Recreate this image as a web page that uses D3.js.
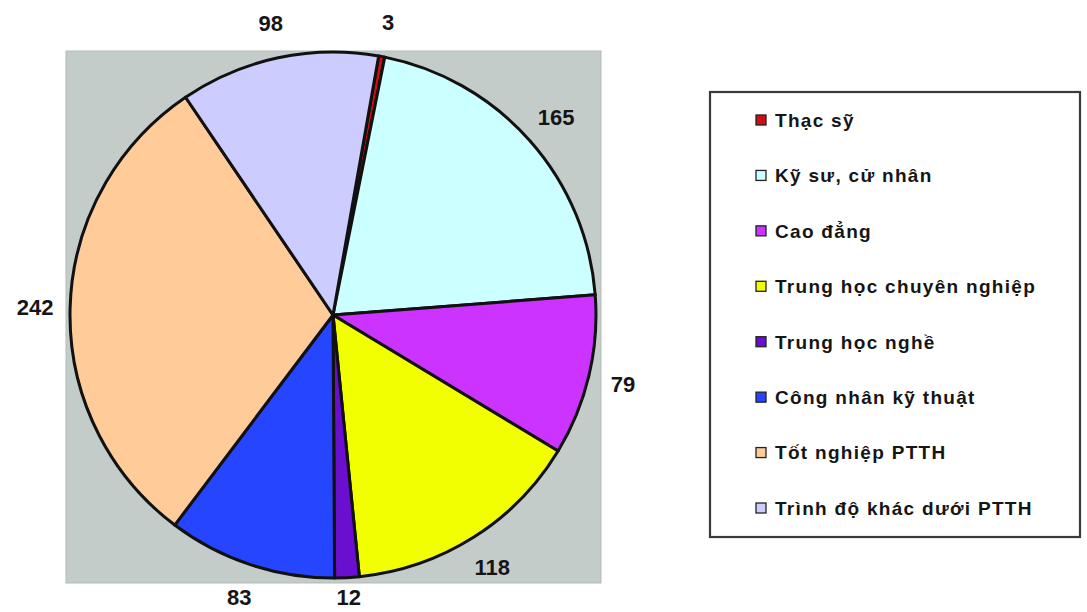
<!DOCTYPE html>
<html>
<head>
<meta charset="utf-8">
<script src="https://cdn.jsdelivr.net/npm/d3@7"></script>
<style>
  html, body { margin: 0; padding: 0; background: #ffffff; }
  svg { display: block; }
  text { font-family: "Liberation Sans", Arial, sans-serif; font-weight: bold; fill: #151515; }
</style>
</head>
<body>
<svg id="chart" width="1087" height="612"></svg>
<script>
// Trình độ chuyên môn của lao động
const categories = [
  "Thạc sỹ",
  "Kỹ sư, cử nhân",
  "Cao đẳng",
  "Trung học chuyên nghiệp",
  "Trung học nghề",
  "Công nhân kỹ thuật",
  "Tốt nghiệp PTTH",
  "Trình độ khác dưới PTTH"
];
const values = [3, 165, 79, 118, 12, 83, 242, 98];
const colors = ["#cc1010", "#ccffff", "#cc33ff", "#f2ff00", "#6a0fd0", "#2645ff", "#ffcc99", "#ccccff"];

const W = 1087, H = 612;
const svg = d3.select("#chart");

// Plot area
const plot = { x: 66, y: 51, w: 535, h: 532 };
svg.append("rect")
  .attr("x", plot.x).attr("y", plot.y)
  .attr("width", plot.w).attr("height", plot.h)
  .attr("fill", "#c4ccca")
  .attr("stroke", "#b3bbb9").attr("stroke-width", 1);

const cx = 333, cy = 315, r = 263;
const start = 10 * Math.PI / 180;

const pie = d3.pie().sort(null).value(d => d.v)
  .startAngle(start).endAngle(start + 2 * Math.PI);
const data = pie(categories.map((c, i) => ({ c, v: values[i], col: colors[i] })));

const arc = d3.arc().innerRadius(0).outerRadius(r);
const labelArc = d3.arc().innerRadius(r + 35).outerRadius(r + 35);

const g = svg.append("g").attr("transform", `translate(${cx},${cy})`);

g.selectAll("path.slice")
  .data(data)
  .enter().append("path")
  .attr("class", "slice")
  .attr("d", arc)
  .attr("fill", d => d.data.col)
  .attr("stroke", "#111")
  .attr("stroke-width", 3)
  .attr("stroke-linejoin", "round");

// Value labels outside the pie, kept inside the canvas
g.selectAll("text.val")
  .data(data)
  .enter().append("text")
  .attr("class", "val")
  .attr("transform", d => {
    const [x, y] = labelArc.centroid(d);
    return `translate(${x},${Math.min(y, H - cy - 15)})`;
  })
  .attr("text-anchor", "middle")
  .attr("dy", "0.36em")
  .style("font-size", "22px")
  .text(d => d.data.v);

// Legend
const leg = { x: 710, y: 92, w: 370, h: 445 };
svg.append("rect")
  .attr("x", leg.x).attr("y", leg.y)
  .attr("width", leg.w).attr("height", leg.h)
  .attr("fill", "#ffffff")
  .attr("stroke", "#3a3a3a").attr("stroke-width", 2.2);

const rowY = d3.scalePoint().domain(categories).range([120, 508]);

const items = svg.append("g").selectAll("g.item")
  .data(categories)
  .enter().append("g")
  .attr("class", "item")
  .attr("transform", d => `translate(0,${rowY(d)})`);

items.append("rect")
  .attr("x", 756).attr("y", -5)
  .attr("width", 10).attr("height", 10)
  .attr("fill", (d, i) => colors[i])
  .attr("stroke", "#222").attr("stroke-width", 1.3);

items.append("text")
  .attr("x", 775)
  .attr("dy", "0.36em")
  .style("font-size", "19px")
  .style("letter-spacing", "1.3px")
  .text(d => d);
</script>
</body>
</html>
